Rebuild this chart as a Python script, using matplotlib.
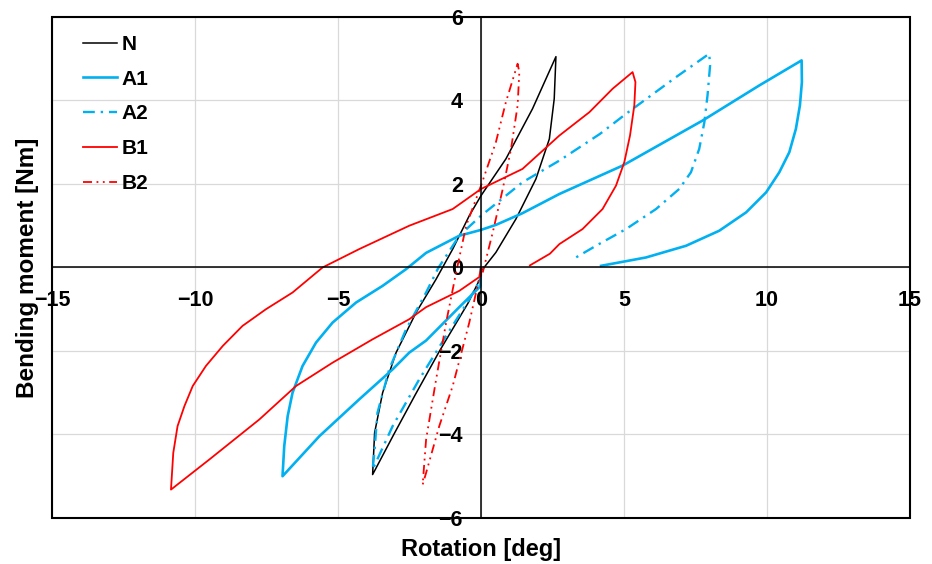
import matplotlib
matplotlib.use("Agg")
import matplotlib.pyplot as plt
from matplotlib.patches import Rectangle

plt.rcParams['font.family'] = ['Liberation Sans', 'DejaVu Sans']
plt.rcParams['font.weight'] = 'bold'

# hysteresis loops, points in test order (rotation deg, moment Nm)
n_x = [0, -0.02, -0.45, -1.45, -2.3, -3.05, -3.79, -3.72, -3.44, -2.97, -2.27,
       -1.57, -0.99, -0.41, 0, 0.87, 1.80, 2.62, 2.56, 2.39, 1.92, 1.22, 0.52, 0.05]
n_y = [0, -0.25, -0.85, -2.0, -3.05, -4.0, -4.96, -3.96, -3.0, -2.04, -1.08,
       -0.28, 0.44, 1.24, 1.72, 2.60, 3.80, 5.05, 4.04, 3.08, 2.12, 1.16, 0.36, -0.05]

a1_x = [0, -0.02, -0.76, -1.92, -2.51, -3.09, -4.26, -5.65, -6.94,
        -6.88, -6.76, -6.59, -6.24, -5.77, -5.19, -4.37, -3.44, -2.62,
        -1.92, -0.76, 0, 0.52, 1.45, 2.74, 4.95, 7.75, 9.73, 11.21,
        11.22, 11.15, 11.01, 10.78, 10.43, 9.97, 9.27, 8.33, 7.17, 5.77, 4.20]
a1_y = [0, -0.45, -0.95, -1.75, -2.04, -2.44, -3.16, -4.04, -5.0,
        -4.28, -3.56, -3.0, -2.36, -1.80, -1.32, -0.84, -0.44, -0.04,
        0.35, 0.76, 0.9, 1.02, 1.3, 1.76, 2.44, 3.52, 4.36, 4.96,
        4.44, 3.88, 3.32, 2.76, 2.28, 1.80, 1.32, 0.88, 0.52, 0.24, 0.04]

a2_x = [0, -0.02, -0.41, -1.22, -2.16, -3.09, -3.79, -3.73, -3.62, -3.21, -2.62,
        -1.92, -1.5, -0.76, 0, 1.45, 2.74, 4.16, 5.07, 6.82, 7.98,
        8.01, 7.92, 7.81, 7.63, 7.34, 6.93, 6.12, 5.07, 4.02, 3.32]
a2_y = [0, -0.3, -0.76, -1.64, -2.68, -3.80, -4.84, -4.44, -3.48, -2.44, -1.48,
        -0.60, -0.02, 0.76, 1.24, 2.04, 2.56, 3.20, 3.68, 4.56, 5.12,
        4.84, 4.12, 3.48, 2.84, 2.28, 1.88, 1.40, 0.92, 0.52, 0.24]

b1_x = [0, 0, -0.76, -1.92, -2.51, -3.79, -5.19, -6.47, -7.75, -9.5, -10.84,
        -10.76, -10.61, -10.37, -10.08, -9.62, -9.03, -8.34, -7.52, -6.59, -5.54,
        -4.26, -2.51, -0.99, 0, 1.45, 2.74, 3.79, 4.60, 5.30,
        5.40, 5.36, 5.21, 5.01, 4.72, 4.25, 3.55, 2.74, 2.41, 1.71]
b1_y = [0, -0.2, -0.56, -0.95, -1.24, -1.72, -2.28, -2.84, -3.64, -4.6, -5.32,
        -4.44, -3.80, -3.32, -2.84, -2.36, -1.88, -1.40, -1.0, -0.60, 0.0,
        0.44, 1.0, 1.40, 1.88, 2.36, 3.16, 3.72, 4.28, 4.68,
        4.44, 3.88, 3.16, 2.52, 1.96, 1.40, 0.92, 0.56, 0.33, 0.05]

b2_x = [0, -0.12, -0.41, -0.99, -1.46, -1.92, -2.04, -1.92, -1.57, -1.22, -0.87,
        -0.52, 0, 0.52, 0.87, 1.28, 1.34, 1.28, 1.05, 0.76, 0.41, 0.06]
b2_y = [0, -0.44, -1.32, -2.84, -3.80, -4.92, -5.2, -4.12, -2.68, -1.32, -0.12,
        1.0, 1.96, 3.0, 3.96, 4.88, 4.68, 3.88, 2.84, 1.88, 0.84, -0.12]

x_ticks = [-15, -10, -5, 0, 5, 10, 15]
y_ticks = [-6, -4, -2, 0, 2, 4, 6]

blue = '#00b0f0'
red = '#ff0000'

fig = plt.figure(figsize=(9.32, 5.64), dpi=100)
ax = fig.add_axes([0.0558, 0.0816, 0.9206, 0.8883])

ax.plot(n_x, n_y, color='black', lw=1.1, label='N')
ax.plot(a1_x, a1_y, color=blue, lw=1.9, label='A1')
ax.plot(a2_x, a2_y, color=blue, lw=1.7, ls=(0, (5, 2.5, 1, 2.5)), label='A2')
ax.plot(b1_x, b1_y, color=red, lw=1.3, label='B1')
ax.plot(b2_x, b2_y, color=red, lw=1.3, ls=(0, (5, 2.5, 1, 2.5, 1, 2.5)), label='B2')

ax.set_xlim(-15, 15)
ax.set_ylim(-6, 6)
ax.set_xticks(x_ticks)
ax.set_yticks(y_ticks)
ax.grid(True, color='#d9d9d9', lw=0.9)
ax.set_axisbelow(True)

# axes through the origin, plus a box frame
ax.spines['left'].set_position('zero')
ax.spines['bottom'].set_position('zero')
for s in ['left', 'bottom']:
    ax.spines[s].set_linewidth(1.1)
for s in ['top', 'right']:
    ax.spines[s].set_visible(False)
ax.add_patch(Rectangle((0, 0), 1, 1, transform=ax.transAxes, fill=False,
                       lw=1.5, ec='black', clip_on=False, zorder=5))

ax.tick_params(axis='x', length=0, pad=16, labelsize=15.5)
ax.tick_params(axis='y', length=0, pad=13, labelsize=15.5)

ax.text(0.5, -0.062, 'Rotation [deg]', transform=ax.transAxes, ha='center',
        va='center', fontsize=17, fontweight='bold')
ax.text(-0.029, 0.5, 'Bending moment [Nm]', transform=ax.transAxes, ha='center',
        va='center', rotation=90, fontsize=17.5, fontweight='bold')

ax.legend(loc='upper left', bbox_to_anchor=(0.026, 0.981), borderaxespad=0,
          frameon=False, handlelength=1.65, handletextpad=0.2,
          labelspacing=0.76, prop={'weight': 'bold', 'size': 15})

fig.savefig('out.png', dpi=100)
